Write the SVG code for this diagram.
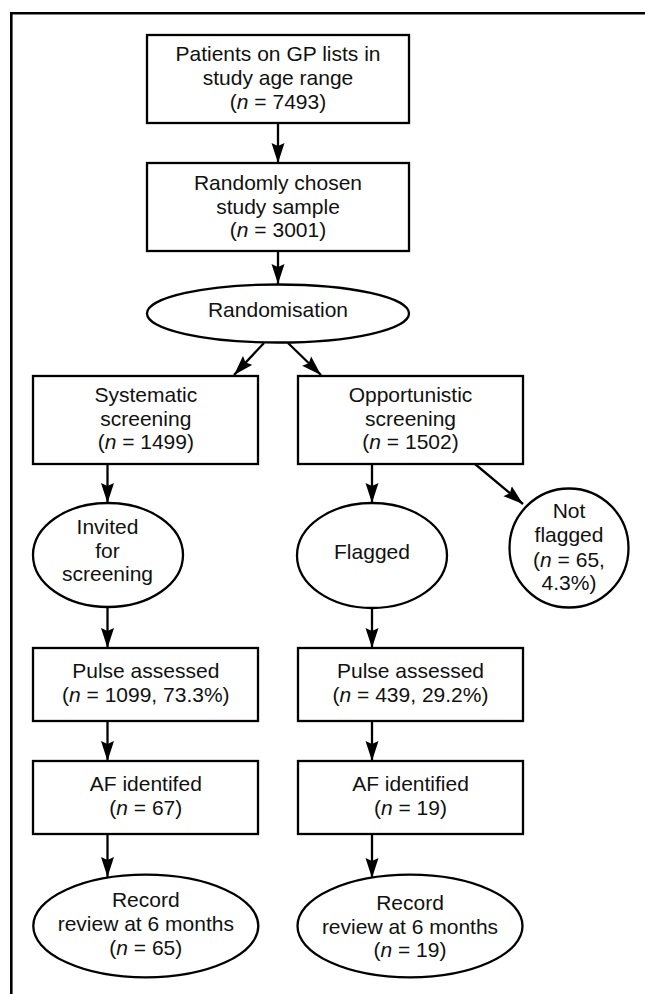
<svg xmlns="http://www.w3.org/2000/svg" width="645" height="994" viewBox="0 0 645 994">
<style>
  .box{fill:#fff;stroke:#000;stroke-width:2.3}
  .frame{fill:none;stroke:#000;stroke-width:2.6}
  .t{font-family:"Liberation Sans",Arial,Helvetica,sans-serif;font-size:21px;fill:#111;text-anchor:middle}
  .i{font-style:italic}
  .c{stroke:#000;stroke-width:2.3;fill:none;marker-end:url(#ah)}
</style>
<defs>
  <marker id="ah" markerUnits="userSpaceOnUse" markerWidth="22" markerHeight="16" refX="20" refY="7" orient="auto">
    <path d="M0,0.5 L20,7 L0,13.5 L3,7 z" fill="#000"/>
  </marker>
</defs>
<rect width="645" height="994" fill="#fff"/>
<path class="frame" d="M11.3,994 V13.3 H645"/>

<g id="connectors">
  <line class="c" x1="278" y1="123" x2="278" y2="163"/>
  <line class="c" x1="278" y1="251" x2="278" y2="284"/>
  <line class="c" x1="264" y1="343" x2="234" y2="375"/>
  <line class="c" x1="288" y1="343" x2="321" y2="375"/>
  <line class="c" x1="107.5" y1="464" x2="107.5" y2="503"/>
  <line class="c" x1="372" y1="464" x2="372" y2="503"/>
  <line class="c" x1="475" y1="464" x2="523" y2="504"/>
  <line class="c" x1="107.5" y1="607" x2="107.5" y2="648"/>
  <line class="c" x1="372" y1="608" x2="372" y2="648"/>
  <line class="c" x1="107.5" y1="721" x2="107.5" y2="761"/>
  <line class="c" x1="372" y1="721" x2="372" y2="761"/>
  <line class="c" x1="107.5" y1="834" x2="107.5" y2="877"/>
  <line class="c" x1="372" y1="834" x2="372" y2="878"/>
</g>

<g id="n1">
  <rect class="box" x="147" y="35" width="262" height="88"/>
  <text class="t" x="278" y="61">Patients on GP lists in</text>
  <text class="t" x="278" y="85">study age range</text>
  <text class="t" x="278" y="109">(<tspan class="i">n</tspan> = 7493)</text>
</g>
<g id="n2">
  <rect class="box" x="147" y="163" width="262" height="88"/>
  <text class="t" x="278" y="190">Randomly chosen</text>
  <text class="t" x="278" y="213.5">study sample</text>
  <text class="t" x="278" y="237">(<tspan class="i">n</tspan> = 3001)</text>
</g>
<g id="n3">
  <ellipse class="box" cx="278" cy="313.5" rx="131" ry="29"/>
  <text class="t" x="278" y="317">Randomisation</text>
</g>
<g id="n4">
  <rect class="box" x="33" y="376" width="225" height="88"/>
  <text class="t" x="145.8" y="402">Systematic</text>
  <text class="t" x="145.8" y="425.5">screening</text>
  <text class="t" x="145.8" y="449">(<tspan class="i">n</tspan> = 1499)</text>
</g>
<g id="n5">
  <rect class="box" x="298" y="376" width="225" height="88"/>
  <text class="t" x="410.5" y="402">Opportunistic</text>
  <text class="t" x="410.5" y="425.5">screening</text>
  <text class="t" x="410.5" y="449">(<tspan class="i">n</tspan> = 1502)</text>
</g>
<g id="n6">
  <ellipse class="box" cx="108" cy="555" rx="75" ry="52"/>
  <text class="t" x="107.5" y="534">Invited</text>
  <text class="t" x="107.5" y="557.5">for</text>
  <text class="t" x="107.5" y="581">screening</text>
</g>
<g id="n7">
  <ellipse class="box" cx="372" cy="555.5" rx="75" ry="52.5"/>
  <text class="t" x="372" y="559">Flagged</text>
</g>
<g id="n8">
  <ellipse class="box" cx="569" cy="548" rx="59.5" ry="59.5"/>
  <text class="t" x="569" y="518">Not</text>
  <text class="t" x="569" y="542">flagged</text>
  <text class="t" x="569" y="566.5">(<tspan class="i">n</tspan> = 65,</text>
  <text class="t" x="569" y="590">4.3%)</text>
</g>
<g id="n9">
  <rect class="box" x="33" y="648" width="225" height="73"/>
  <text class="t" x="145.8" y="678">Pulse assessed</text>
  <text class="t" x="145.8" y="702">(<tspan class="i">n</tspan> = 1099, 73.3%)</text>
</g>
<g id="n10">
  <rect class="box" x="298" y="648" width="225" height="73"/>
  <text class="t" x="410.5" y="678">Pulse assessed</text>
  <text class="t" x="410.5" y="702">(<tspan class="i">n</tspan> = 439, 29.2%)</text>
</g>
<g id="n11">
  <rect class="box" x="33" y="761" width="225" height="73"/>
  <text class="t" x="145.8" y="791">AF identifed</text>
  <text class="t" x="145.8" y="815">(<tspan class="i">n</tspan> = 67)</text>
</g>
<g id="n12">
  <rect class="box" x="298" y="761" width="225" height="73"/>
  <text class="t" x="410.5" y="791">AF identified</text>
  <text class="t" x="410.5" y="815">(<tspan class="i">n</tspan> = 19)</text>
</g>
<g id="n13">
  <ellipse class="box" cx="145.8" cy="926" rx="112.5" ry="51.3"/>
  <text class="t" x="145.8" y="907">Record</text>
  <text class="t" x="145.8" y="931">review at 6 months</text>
  <text class="t" x="145.8" y="955">(<tspan class="i">n</tspan> = 65)</text>
</g>
<g id="n14">
  <ellipse class="box" cx="410" cy="926" rx="112.5" ry="51.3"/>
  <text class="t" x="410" y="910">Record</text>
  <text class="t" x="410" y="933.5">review at 6 months</text>
  <text class="t" x="410" y="957">(<tspan class="i">n</tspan> = 19)</text>
</g>
</svg>
